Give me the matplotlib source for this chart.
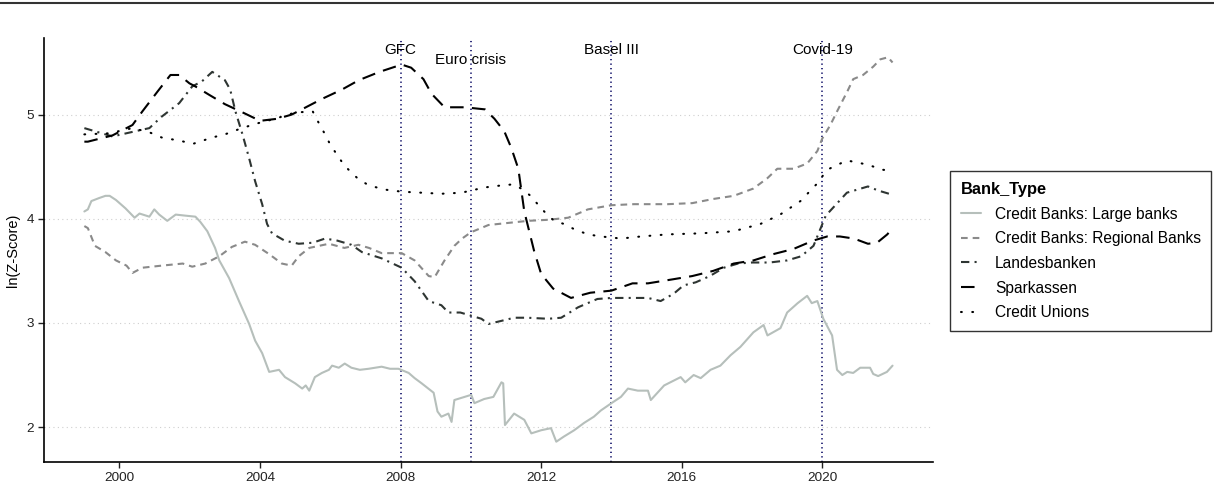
import matplotlib
matplotlib.use("Agg")
import matplotlib.pyplot as plt
from matplotlib.lines import Line2D

plt.rcParams['font.family'] = ['Liberation Sans', 'DejaVu Sans']

# ---- data (year, ln(Z-Score)) ----
large_yr = [1999.0, 1999.1, 1999.2, 1999.43, 1999.6, 1999.72, 1999.9, 2000.17, 2000.43, 2000.57,
            2000.85, 2000.99, 2001.13, 2001.36, 2001.6, 2001.87, 2002.16, 2002.3, 2002.5, 2002.72,
            2002.84, 2003.12, 2003.4, 2003.69, 2003.86, 2004.06, 2004.26, 2004.54, 2004.71, 2005.0,
            2005.2, 2005.3, 2005.4, 2005.56, 2005.76, 2005.96, 2006.05, 2006.24, 2006.41, 2006.6,
            2006.84, 2007.09, 2007.46, 2007.7, 2007.94, 2008.23, 2008.4, 2008.6, 2008.94, 2009.05,
            2009.16, 2009.36, 2009.45, 2009.53, 2009.82, 2010.01, 2010.1, 2010.38, 2010.64, 2010.87,
            2010.92, 2010.97, 2011.23, 2011.52, 2011.72, 2012.0, 2012.28, 2012.43, 2012.65, 2012.94,
            2013.22, 2013.5, 2013.7, 2014.0, 2014.27, 2014.47, 2014.75, 2015.04, 2015.12, 2015.5,
            2015.97, 2016.1, 2016.34, 2016.54, 2016.82, 2017.1, 2017.39, 2017.67, 2018.04, 2018.33,
            2018.44, 2018.81, 2019.0, 2019.3, 2019.57, 2019.7, 2019.86, 2020.03, 2020.28, 2020.42,
            2020.57, 2020.71, 2020.88, 2021.08, 2021.36, 2021.45, 2021.59, 2021.84, 2022.0]
large_val = [4.07, 4.09, 4.17, 4.20, 4.22, 4.22, 4.18, 4.10, 4.01, 4.05,
             4.02, 4.09, 4.04, 3.98, 4.04, 4.03, 4.02, 3.97, 3.88, 3.72,
             3.60, 3.43, 3.21, 2.99, 2.83, 2.71, 2.53, 2.55, 2.48, 2.42,
             2.37, 2.40, 2.35, 2.48, 2.52, 2.55, 2.59, 2.57, 2.61, 2.57,
             2.55, 2.56, 2.58, 2.56, 2.56, 2.52, 2.47, 2.42, 2.33, 2.15,
             2.10, 2.13, 2.05, 2.26, 2.29, 2.31, 2.23, 2.27, 2.29, 2.43,
             2.42, 2.02, 2.13, 2.07, 1.94, 1.97, 1.99, 1.86, 1.91, 1.97,
             2.04, 2.10, 2.16, 2.23, 2.29, 2.37, 2.35, 2.35, 2.26, 2.40,
             2.48, 2.43, 2.50, 2.47, 2.55, 2.59, 2.69, 2.77, 2.91, 2.98,
             2.88, 2.95, 3.10, 3.19, 3.26, 3.19, 3.21, 3.04, 2.88, 2.55,
             2.50, 2.53, 2.52, 2.57, 2.57, 2.51, 2.49, 2.53, 2.59]

regional_yr = [1999.0, 1999.1, 1999.3, 1999.6, 1999.9, 2000.2, 2000.37, 2000.65, 2001.2, 2001.8,
               2002.07, 2002.44, 2002.84, 2003.2, 2003.57, 2003.86, 2004.26, 2004.62, 2004.9, 2005.1,
               2005.4, 2005.96, 2006.4, 2006.8, 2007.1, 2007.46, 2008.03, 2008.4, 2008.8, 2008.97,
               2009.25, 2009.53, 2009.75, 2010.0, 2010.5, 2011.06, 2011.63, 2012.2, 2012.77, 2013.33,
               2014.0, 2014.64, 2015.6, 2016.3, 2016.9, 2017.48, 2018.04, 2018.44, 2018.72, 2019.18,
               2019.57, 2019.86, 2020.0, 2020.23, 2020.42, 2020.71, 2020.88, 2021.16, 2021.45, 2021.65,
               2021.87, 2022.0]
regional_val = [3.93, 3.91, 3.74, 3.68, 3.60, 3.55, 3.48, 3.53, 3.55, 3.57,
                3.54, 3.57, 3.64, 3.73, 3.78, 3.75, 3.66, 3.57, 3.55, 3.64,
                3.72, 3.76, 3.72, 3.75, 3.72, 3.67, 3.67, 3.60, 3.45, 3.44,
                3.60, 3.74, 3.81, 3.87, 3.94, 3.96, 3.98, 3.99, 4.01, 4.09,
                4.13, 4.14, 4.14, 4.15, 4.19, 4.22, 4.29, 4.39, 4.48, 4.48,
                4.53, 4.65, 4.77, 4.90, 5.03, 5.22, 5.34, 5.38, 5.46, 5.53,
                5.55, 5.50]

landes_yr = [1999.0, 1999.1, 1999.8, 2000.45, 2000.85, 2001.2, 2001.7, 2002.07, 2002.35, 2002.64,
             2003.0, 2003.15, 2003.3, 2003.5, 2003.69, 2003.86, 2004.06, 2004.2, 2004.34, 2004.7,
             2005.1, 2005.5, 2005.85, 2006.2, 2006.6, 2006.9, 2007.46, 2008.03, 2008.4, 2008.8,
             2009.16, 2009.36, 2009.7, 2010.0, 2010.3, 2010.5, 2010.87, 2011.23, 2011.6, 2012.2,
             2012.57, 2013.05, 2013.6, 2014.0, 2014.6, 2015.04, 2015.4, 2015.77, 2016.05, 2016.4,
             2016.8, 2017.2, 2017.6, 2018.0, 2018.5, 2019.0, 2019.4, 2019.75, 2020.1, 2020.7,
             2021.3, 2021.6, 2021.9, 2022.0]
landes_val = [4.87, 4.86, 4.79, 4.84, 4.87, 4.98, 5.11, 5.27, 5.32, 5.41,
              5.33, 5.24, 5.03, 4.81, 4.58, 4.36, 4.14, 3.95, 3.86, 3.79,
              3.76, 3.77, 3.81, 3.79, 3.75, 3.68, 3.62, 3.53, 3.40, 3.21,
              3.17, 3.10, 3.10, 3.07, 3.04, 2.99, 3.02, 3.05, 3.05, 3.04,
              3.05, 3.15, 3.23, 3.24, 3.24, 3.24, 3.21, 3.28, 3.36, 3.39,
              3.45, 3.53, 3.57, 3.58, 3.58, 3.60, 3.64, 3.74, 4.03, 4.25,
              4.31, 4.27, 4.24, 4.27]

spark_yr = [1999.0, 1999.1, 1999.8, 2000.37, 2000.65, 2001.08, 2001.45, 2001.7, 2001.99, 2002.16,
            2002.55, 2003.0, 2003.57, 2004.0, 2004.5, 2004.9, 2005.19, 2005.76, 2006.33, 2006.81,
            2007.4, 2008.03, 2008.3, 2008.65, 2008.88, 2009.25, 2009.82, 2010.4, 2010.67, 2010.95,
            2011.15, 2011.35, 2011.52, 2011.66, 2011.8, 2012.0, 2012.34, 2012.85, 2013.4, 2014.0,
            2014.6, 2015.04, 2015.77, 2016.3, 2016.9, 2017.48, 2018.04, 2018.6, 2019.18, 2019.74,
            2020.14, 2020.5, 2020.9, 2021.3, 2021.56, 2021.85, 2022.0]
spark_val = [4.74, 4.74, 4.80, 4.90, 5.03, 5.22, 5.38, 5.38, 5.30, 5.27,
             5.19, 5.10, 5.01, 4.94, 4.96, 5.00, 5.05, 5.15, 5.24, 5.33,
             5.41, 5.48, 5.45, 5.34, 5.20, 5.07, 5.07, 5.05, 4.96, 4.84,
             4.68, 4.48, 4.07, 3.88, 3.69, 3.47, 3.33, 3.24, 3.29, 3.31,
             3.38, 3.38, 3.42, 3.45, 3.50, 3.57, 3.60, 3.66, 3.71, 3.79,
             3.83, 3.83, 3.81, 3.76, 3.77, 3.85, 3.91]

union_yr = [1999.0, 1999.7, 2000.37, 2000.85, 2001.2, 2001.7, 2002.1, 2002.64, 2003.0, 2003.4,
            2003.86, 2004.43, 2005.0, 2005.5, 2005.67, 2005.85, 2006.0, 2006.18, 2006.38, 2006.55,
            2006.8, 2007.1, 2007.55, 2008.03, 2008.6, 2009.16, 2009.73, 2010.0, 2010.38, 2010.87,
            2011.2, 2011.43, 2011.7, 2011.9, 2012.14, 2012.37, 2012.65, 2012.94, 2013.33, 2013.7,
            2014.0, 2014.27, 2014.84, 2015.6, 2016.54, 2017.48, 2018.24, 2018.8, 2019.38, 2019.86,
            2020.03, 2020.2, 2020.7, 2021.28, 2021.73, 2022.0]
union_val = [4.81, 4.82, 4.87, 4.83, 4.78, 4.75, 4.72, 4.78, 4.81, 4.86,
             4.91, 4.96, 5.02, 5.03, 4.92, 4.81, 4.71, 4.62, 4.52, 4.46,
             4.38, 4.32, 4.28, 4.26, 4.25, 4.24, 4.25, 4.27, 4.30, 4.32,
             4.33, 4.29, 4.22, 4.14, 4.05, 3.98, 3.95, 3.90, 3.85, 3.83,
             3.82, 3.81, 3.83, 3.85, 3.86, 3.88, 3.95, 4.04, 4.17, 4.34,
             4.42, 4.48, 4.56, 4.52, 4.47, 4.46]

event_years = [2008, 2010, 2014, 2020]
event_labels = ['GFC', 'Euro crisis', 'Basel III', 'Covid-19']
event_label_y = [5.62, 5.525, 5.62, 5.62]

x_ticks = [2000, 2004, 2008, 2012, 2016, 2020]
y_ticks = [2, 3, 4, 5]

# ---- figure ----
fig = plt.figure(figsize=(12.14, 5.04), dpi=100)
ax = fig.add_axes([0.0362, 0.0833, 0.7323, 0.8413])

lw = 1.5
series = [
    (large_yr, large_val, 'Credit Banks: Large banks', '#b6bfbb', None),
    (regional_yr, regional_val, 'Credit Banks: Regional Banks', '#8a8a8a', (3.2, 2.4)),
    (landes_yr, landes_val, 'Landesbanken', '#2e3532', (4, 2.5, 1, 2.5)),
    (spark_yr, spark_val, 'Sparkassen', '#000000', (6.5, 4)),
    (union_yr, union_val, 'Credit Unions', '#000000', (0.4, 5)),
]
handles = []
for xs, ys, name, col, dash in series:
    if dash is None:
        line, = ax.plot(xs, ys, color=col, lw=lw, label=name, solid_capstyle='round')
    else:
        line, = ax.plot(xs, ys, color=col, lw=lw, label=name, dashes=dash,
                        dash_capstyle='round' if name == 'Credit Unions' else 'butt')
    handles.append(line)

# event markers
for yr, lab, ly in zip(event_years, event_labels, event_label_y):
    ax.axvline(yr, color='#1c1c70', lw=1.3, dashes=(0.7, 1.8), zorder=1)
    ax.text(yr, ly, lab, ha='center', va='center', fontsize=11, color='black')

ax.set_xlim(1997.85, 2023.15)
ax.set_ylim(1.665, 5.735)
ax.set_xticks(x_ticks)
ax.set_yticks(y_ticks)
ax.tick_params(axis='both', labelsize=9.7, colors='#222222', length=4, width=1, pad=3)
ax.set_ylabel('ln(Z-Score)', fontsize=10.5, labelpad=5)

ax.grid(axis='y', color='#cfcfcf', lw=0.8, dashes=(1, 3))
ax.set_axisbelow(True)
for side in ['top', 'right']:
    ax.spines[side].set_visible(False)
for side in ['left', 'bottom']:
    ax.spines[side].set_linewidth(1.2)
    ax.spines[side].set_color('black')

leg = fig.legend(handles=handles, title='Bank_Type', loc='upper left',
                 bbox_to_anchor=(0.7825, 0.660), bbox_transform=fig.transFigure,
                 borderaxespad=0, fontsize=11.2, title_fontsize=11.8, frameon=True,
                 fancybox=False, edgecolor='black', handlelength=1.3, handletextpad=0.9,
                 labelspacing=0.62, borderpad=0.68, alignment='left')
leg.get_title().set_fontweight('bold')
leg.get_frame().set_linewidth(1.0)

# thin rule across the top of the image
fig.add_artist(Line2D([0, 1], [1 - 3 / 504, 1 - 3 / 504], transform=fig.transFigure,
                      color='#333333', lw=1.5))

fig.savefig('out.png', dpi=100, facecolor='white')
